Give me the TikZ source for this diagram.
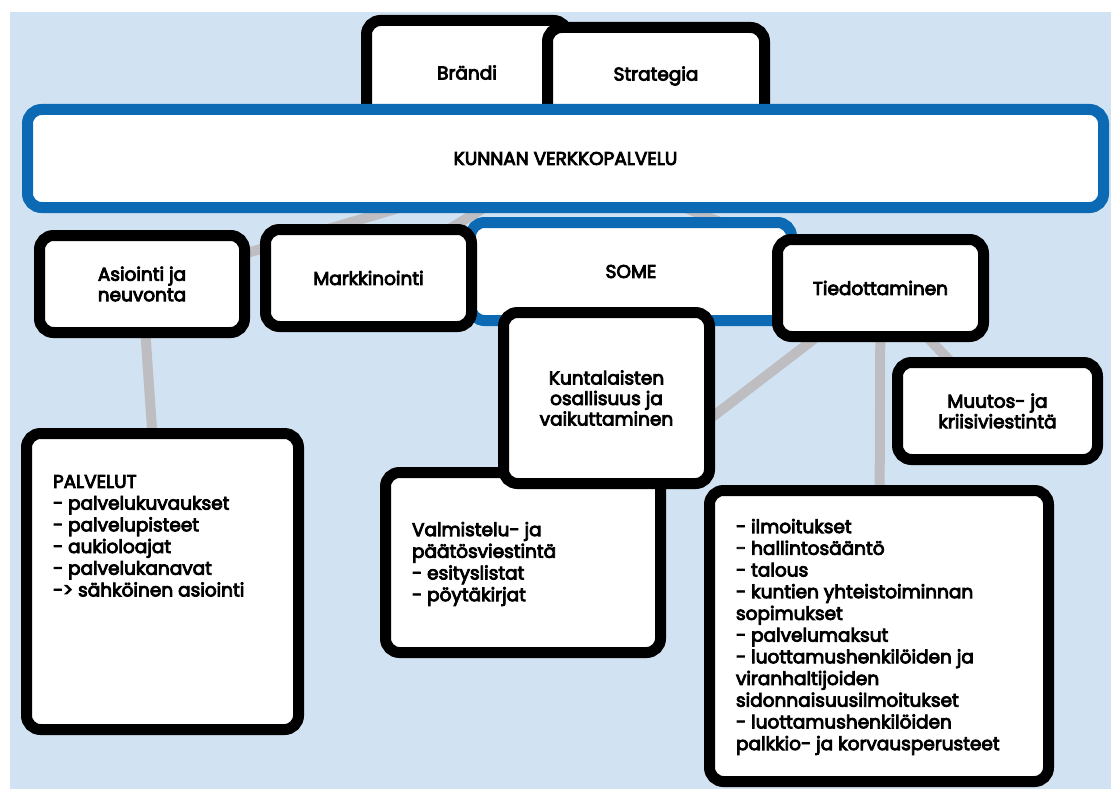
\documentclass[tikz,border=0pt]{standalone}
\usepackage{fontspec}
\setmainfont{Poppins}[BoldFont=Poppins, BoldFeatures={FakeBold=4.5}]
\usetikzlibrary{backgrounds}
\definecolor{pagebg}{RGB}{209,227,242}
\definecolor{frameblue}{RGB}{11,106,179}
\definecolor{linkgrey}{RGB}{190,190,194}
\pgfdeclarelayer{paper}
\pgfdeclarelayer{links}
\pgfsetlayers{paper,links,main}
\tikzset{
  box/.style={draw=black, line width=11pt, rounded corners=14pt, fill=white,
    inner sep=0pt, outer sep=0pt, align=center,
    font=\fontsize{18.5}{20.5}\selectfont\bfseries},
  bluebox/.style={box, draw=frameblue},
  listtext/.style={inner sep=0pt, outer sep=0pt, align=left, anchor=north west,
    font=\fontsize{18.5}{21.7}\selectfont\bfseries},
  link/.style={draw=linkgrey, line width=10pt}
}
\begin{document}
\begin{tikzpicture}[x=1pt,y=-1pt]
\useasboundingbox (0,0) rectangle (1111,789);

% top row, partly hidden by the main banner
\node[box, minimum width=201pt, minimum height=104pt] (brandi) at (467,72.5) {Brändi};
\node[box, minimum width=217pt, minimum height=97pt] (strategia) at (656,76) {Strategia};

% main banner
\node[bluebox, minimum width=1076pt, minimum height=98pt] (kunnan) at (565.5,158.5) {KUNNAN VERKKOPALVELU};

% second row
\node[box, minimum width=205pt, minimum height=97pt] (asi) at (142,284) {Asiointi ja\\neuvonta};
\node[bluebox, minimum width=321pt, minimum height=98pt] (some) at (631,271.5) {SOME};
\node[box, minimum width=206pt, minimum height=97pt] (markk) at (368.5,278) {Markkinointi};
\node[box, minimum width=206pt, minimum height=97pt] (tied) at (880.5,288) {Tiedottaminen};

% lower boxes
\node[box, minimum width=275pt, minimum height=180pt] (valm) at (523,562.5) {};
\node[listtext] (valmtxt) at (412,522) {Valmistelu- ja\\päätösviestintä\\- esityslistat\\- pöytäkirjat};
\node[box, minimum width=206pt, minimum height=171pt] (kunt) at (606.5,398) {Kuntalaisten\\osallisuus ja\\vaikuttaminen};
\node[box, minimum width=200pt, minimum height=97pt] (muutos) at (997.5,411) {Muutos- ja\\kriisiviestintä};

\node[box, minimum width=272pt, minimum height=296pt] (palv) at (162.5,581.5) {};
\node[listtext] (palvtxt) at (53,475) {PALVELUT\\- palvelukuvaukset\\- palvelupisteet\\- aukioloajat\\- palvelukanavat\\-> sähköinen asiointi};

\node[box, minimum width=339pt, minimum height=291pt] (info) at (879,636) {};
\node[listtext] (infotxt) at (736,519) {- ilmoitukset\\- hallintosääntö\\- talous\\- kuntien yhteistoiminnan\\sopimukset\\- palvelumaksut\\- luottamushenkilöiden ja\\viranhaltijoiden\\sidonnaisuusilmoitukset\\- luottamushenkilöiden\\palkkio- ja korvausperusteet};

% connectors behind the boxes
\begin{pgfonlayer}{links}
\draw[link] (kunnan) -- (asi);
\draw[link] (kunnan) -- (markk);
\draw[link] (kunnan) -- (tied);
\draw[link] (asi) -- (palv);
\draw[link] (tied) -- (muutos);
\draw[link] (tied) -- (info);
\draw[link] (tied) -- (valm);
\end{pgfonlayer}

% page background
\begin{pgfonlayer}{paper}
\fill[white] (0,0) rectangle (1111,789);
\fill[pagebg] (10,12) rectangle (1111,789);
\end{pgfonlayer}
\end{tikzpicture}
\end{document}
